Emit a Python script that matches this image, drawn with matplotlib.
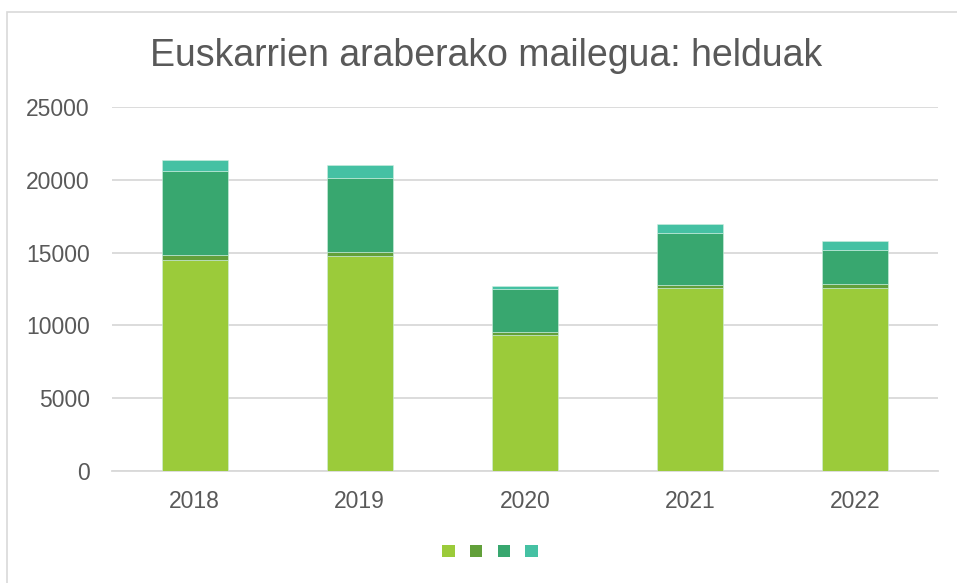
import matplotlib.pyplot as plt
from matplotlib.patches import Patch, Rectangle
import numpy as np

years = ["2018", "2019", "2020", "2021", "2022"]
serie1 = [14500, 14770, 9340, 12570, 12570]
serie2 = [310, 270, 190, 205, 270]
serie3 = [5770, 5110, 2950, 3550, 2360]
serie4 = [760, 850, 250, 635, 600]
yticks = [0, 5000, 10000, 15000, 20000, 25000]

colors = ["#9BCB3A", "#62A03A", "#38A76F", "#45C1A3"]
txt = "#595959"

plt.rcParams["font.family"] = ["Liberation Sans", "DejaVu Sans"]

fig = plt.figure(figsize=(9.57, 5.83), dpi=100)
# marco del gráfico (solo se ven borde izquierdo y superior)
fig.patches.append(Rectangle((7 / 957, -0.05), 1.1, 1 - 12 / 583 + 0.05,
                             transform=fig.transFigure, fill=False,
                             edgecolor="#D9D9D9", linewidth=1.2))

ax = fig.add_axes([112 / 957, 1 - 471 / 583, (938 - 112) / 957, (471 - 107) / 583])
x = np.arange(len(years))
bottom = np.zeros(len(years))
for vals, c in zip([serie1, serie2, serie3, serie4], colors):
    ax.bar(x, vals, width=0.4, bottom=bottom, color=c, edgecolor="#CFEFE0",
           linewidth=0.4, zorder=3)
    bottom += np.array(vals)

ax.set_xlim(-0.5, 4.5)
ax.set_ylim(0, 25000)
ax.set_yticks(yticks)
ax.set_yticklabels([str(v) for v in yticks])
ax.set_xticks(x)
ax.set_xticklabels(years)
ax.grid(axis="y", color="#D9D9D9", linewidth=1.3, zorder=0)
for s in ["top", "right", "left"]:
    ax.spines[s].set_visible(False)
ax.spines["bottom"].set_color("#D9D9D9")
ax.spines["bottom"].set_linewidth(1.3)
ax.tick_params(axis="both", length=0, labelsize=16.5, colors=txt)
ax.tick_params(axis="x", pad=14)
ax.tick_params(axis="y", pad=16)

fig.text(486 / 957, 1 - 66 / 583, "Euskarrien araberako mailegua: helduak",
         ha="center", va="baseline", fontsize=27, color=txt)

handles = [Patch(facecolor=c, edgecolor="none") for c in colors]
fig.legend(handles, [""] * 4, loc="center", bbox_to_anchor=(490 / 957, 1 - 552 / 583),
           ncol=4, frameon=False, handlelength=0.9, handleheight=0.9,
           handletextpad=0.0, columnspacing=1.1)

fig.savefig("out.png", dpi=100)
